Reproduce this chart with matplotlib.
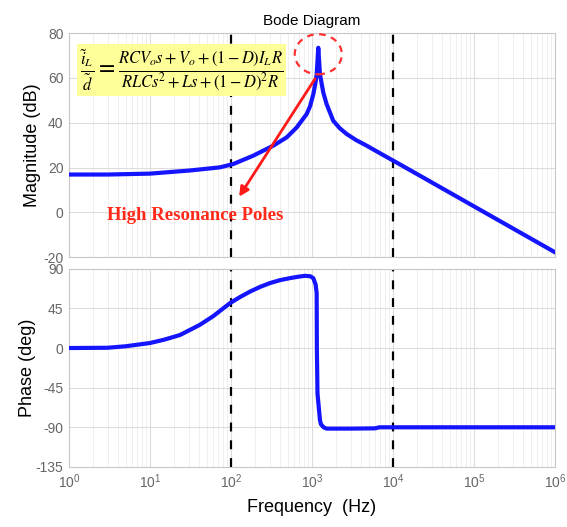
import numpy as np
import matplotlib.pyplot as plt
from matplotlib.patches import Ellipse
from matplotlib.ticker import LogLocator, NullFormatter, FixedLocator

plt.rcParams['font.family'] = ['Liberation Sans', 'DejaVu Sans']
plt.rcParams['axes.unicode_minus'] = False

# magnitude response read at a handful of frequencies
mag_f = [1, 3, 10, 31, 73, 107, 188, 333, 488, 647, 860, 950, 1038, 1100,
         1143, 1197, 1256, 1380, 1518, 1833, 2200, 2681, 3500, 4730, 7000,
         10090, 19630, 1e5, 1e6]
mag_db = [16.9, 16.9, 17.3, 18.7, 20.1, 21.6, 25.3, 29.8, 33.5, 37.9, 43.9,
          47.5, 52.7, 57.5, 61.6, 73.5, 61.6, 53.5, 48.3, 40.9, 37.6, 35.0,
          32.3, 29.8, 26.3, 23.1, 17.2, 2.7, -17.8]

# phase response
ph_f = [1, 3, 5, 10, 15, 23.5, 41, 60, 97, 130, 172, 230, 302, 400, 537,
        680, 820, 950, 1038, 1110, 1143, 1150, 1170, 1256, 1290, 1400, 1518,
        3000, 6000, 6800, 1e5, 1e6]
ph_deg = [0, 0.3, 2, 5.7, 9.5, 14.8, 26.2, 36, 50.9, 58, 64.1, 69.5, 73.7,
          77, 79.4, 81, 82, 81.5, 79.4, 72, 62.3, 0, -51.6, -82, -86.5, -90.2,
          -91.5, -91.5, -91.2, -90, -90, -90]

mark_f = [1e2, 1e4]
mag_ticks = [-20, 0, 20, 40, 60, 80]
ph_ticks = [-135, -90, -45, 0, 45, 90]

blue = '#1414ff'
gray = '#666666'

fig = plt.figure(figsize=(5.67, 5.27), dpi=100)
ax1 = fig.add_axes([0.1217, 0.512, 0.857, 0.425])
ax2 = fig.add_axes([0.1217, 0.114, 0.857, 0.376])

for ax in (ax1, ax2):
    ax.set_xscale('log')
    ax.set_xlim(1, 1e6)
    ax.xaxis.set_major_locator(LogLocator(base=10, numticks=10))
    ax.xaxis.set_minor_locator(LogLocator(base=10, subs=np.arange(2, 10), numticks=100))
    ax.xaxis.set_minor_formatter(NullFormatter())
    ax.grid(True, which='major', color='#dcdcdc', lw=0.8)
    ax.grid(True, which='minor', color='#ececec', lw=0.6)
    ax.tick_params(which='both', length=0, labelsize=10, labelcolor=gray, pad=4)
    for s in ax.spines.values():
        s.set_color('#c8c8c8')
        s.set_linewidth(0.8)
    for f in mark_f:
        ax.axvline(f, color='black', ls=(0, (4, 4)), lw=1.6, zorder=2)

ax1.plot(mag_f, mag_db, color=blue, lw=3, zorder=3, solid_joinstyle='round')
ax1.set_ylim(-20, 80)
ax1.yaxis.set_major_locator(FixedLocator(mag_ticks))
ax1.tick_params(axis='x', labelbottom=False)
ax1.set_ylabel('Magnitude (dB)', fontsize=13, labelpad=1.5)
ax1.set_title('Bode Diagram', fontsize=11, pad=6)

ax2.plot(ph_f, ph_deg, color=blue, lw=3, zorder=3, solid_joinstyle='round')
ax2.set_ylim(-135, 90)
ax2.yaxis.set_major_locator(FixedLocator(ph_ticks))
ax2.set_ylabel('Phase (deg)', fontsize=13, labelpad=0)
ax2.set_xlabel('Frequency  (Hz)', fontsize=13, labelpad=6)

# transfer function box
formula = (r'$\frac{\tilde{i}_L}{\tilde{d}}=\frac{RCV_o s+V_o+\left(1-D\right)I_L R}'
           r'{RLCs^2+Ls+\left(1-D\right)^2 R}$')
ax1.text(0.231, 0.835, formula, transform=ax1.transAxes, fontsize=17,
         math_fontfamily='stix', va='center', ha='center', zorder=5,
         bbox=dict(boxstyle='square,pad=0.12', fc='#ffff99', ec='none'))

# resonance callout
ax1.add_patch(Ellipse((0.513, 0.906), width=0.097, height=0.179,
                      transform=ax1.transAxes, fill=False, ec='#ff3030',
                      ls=(0, (3, 2.5)), lw=1.6, zorder=4, clip_on=False))
ax1.annotate('', xy=(126, 7), xytext=(1089, 59.6),
             arrowprops=dict(arrowstyle='-|>', color='#ff1a1a', lw=2,
                             mutation_scale=14, shrinkA=0, shrinkB=0), zorder=4)
ax1.text(36, -1.3, 'High Resonance Poles', color='#ff2a1a', fontsize=13.5,
         fontweight='bold', family='Liberation Serif', ha='center', va='center',
         zorder=4)

fig.savefig('out.png', dpi=100)
